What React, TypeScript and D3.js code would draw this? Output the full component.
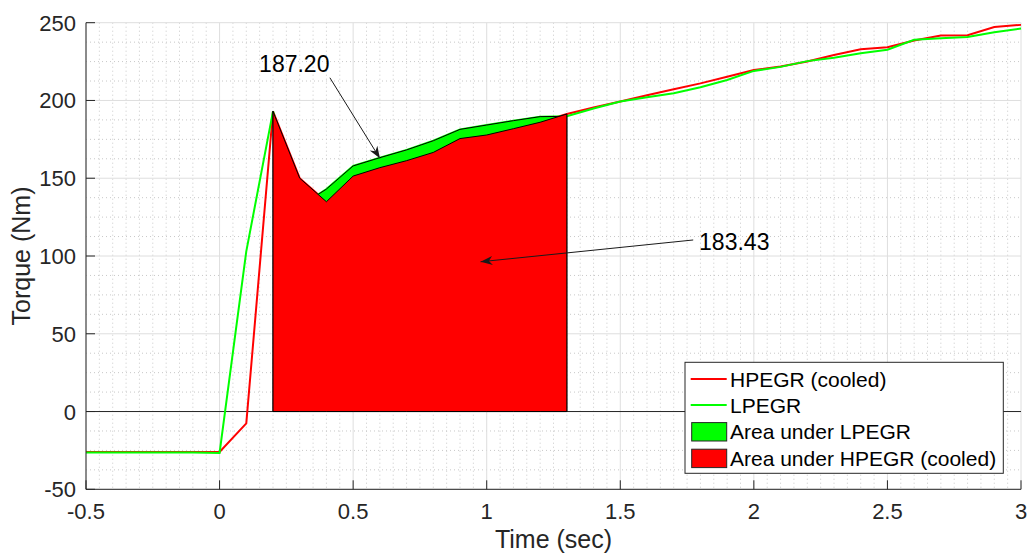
import React from "react";
import * as d3 from "d3";

// Sample times (s)
const times = [
  -0.5, -0.4, -0.3, -0.2, -0.1, 0, 0.1, 0.2, 0.3, 0.4, 0.5, 0.6, 0.7, 0.8, 0.9,
  1.0, 1.1, 1.2, 1.3, 1.4, 1.5, 1.6, 1.7, 1.8, 1.9, 2.0, 2.1, 2.2, 2.3, 2.4, 2.5,
  2.6, 2.7, 2.8, 2.9, 3.0,
];

// Torque (Nm), HPEGR (cooled)
const hpegr = [
  -26, -26, -26, -26, -26, -26, -7.6, 193, 150, 134.9, 151.4, 156.8, 161.3,
  166.6, 175.5, 177.8, 181.85, 186, 191.3, 195.5, 199.3, 203.3, 207.2, 211,
  215.3, 219.6, 221.8, 225, 229.2, 232.9, 234.2, 238.6, 241.7, 241.9, 247.2,
  248.6,
];

// Torque (Nm), LPEGR
const lpegr = [
  -26.3, -26.3, -26.3, -26.3, -26.3, -26.6, 103, 193, 132, 143, 157.9, 163.2,
  168.2, 174.1, 181.4, 184.2, 187.0, 189.6, 189.8, 194.8, 199.3, 202, 204.6,
  208.5, 213.2, 219, 221.6, 225.3, 227.5, 230.3, 232.6, 239, 240, 240.8, 243.8,
  246.3,
];

// Integration window for the shaded areas
const areaStart = 0.2;
const areaEnd = 1.3;

const xTicks = [-0.5, 0, 0.5, 1, 1.5, 2, 2.5, 3];
const yTicks = [-50, 0, 50, 100, 150, 200, 250];

const seriesNames = ["HPEGR (cooled)", "LPEGR"];
const areaNames = ["Area under LPEGR", "Area under HPEGR (cooled)"];
const areaLabels = ["187.20", "183.43"];

const RED = "#ff0000";
const GREEN = "#00ff00";
const AXIS = "#262626";
const FONT = "'Liberation Sans', Arial, Helvetica, sans-serif";

const W = 1030;
const H = 554;
const left = 86;
const right = 1021;
const top = 22.7;
const bottom = 489.3;

export default function App() {
  const x = d3.scaleLinear().domain([-0.5, 3]).range([left, right]);
  const y = d3.scaleLinear().domain([-50, 250]).range([bottom, top]);

  const red = times.map((t, i) => ({ t, v: hpegr[i] }));
  const green = times.map((t, i) => ({ t, v: lpegr[i] }));

  const line = d3
    .line<{ t: number; v: number }>()
    .x((d) => x(d.t))
    .y((d) => y(d.v));
  const area = d3
    .area<{ t: number; v: number }>()
    .x((d) => x(d.t))
    .y0(y(0))
    .y1((d) => y(d.v));

  const inWindow = (d: { t: number }) =>
    d.t >= areaStart - 1e-9 && d.t <= areaEnd + 1e-9;

  // Minor grid
  const xMinor = d3.range(-0.5, 3.0001, 0.05).filter(
    (v) => Math.abs(v / 0.5 - Math.round(v / 0.5)) > 1e-6
  );
  const yMinor = d3.range(-50, 250.001, 12.5).filter((v) => v % 50 !== 0);

  const arrowHead = (
    x1: number,
    y1: number,
    x2: number,
    y2: number,
    len = 12,
    half = 4.5
  ) => {
    const dx = x2 - x1;
    const dy = y2 - y1;
    const L = Math.hypot(dx, dy);
    const ux = dx / L;
    const uy = dy / L;
    const px = -uy;
    const py = ux;
    const bx = x2 - ux * len;
    const by = y2 - uy * len;
    const nx = x2 - ux * len * 0.7;
    const ny = y2 - uy * len * 0.7;
    return `M${x2},${y2}L${bx + px * half},${by + py * half}L${nx},${ny}L${
      bx - px * half
    },${by - py * half}Z`;
  };

  // Annotation arrows in data units: [tailT, tailV, tipT, tipV]
  const arrows = [
    [0.413, 214.6, 0.6, 162.8],
    [1.773, 110.3, 0.977, 96.3],
  ];

  const legendX = 685;
  const legendY = 362.3;
  const legendW = 318.3;
  const legendH = 111;
  const rowY = [379, 405, 431.8, 458.4];

  return (
    <svg
      width={W}
      height={H}
      style={{ position: "absolute", left: 0, top: 0, background: "#fff" }}
      fontFamily={FONT}
    >
      <rect x={0} y={0} width={W} height={H} fill="#fff" />

      {/* minor grid */}
      <g stroke="#c8c8c8" strokeWidth={1} strokeDasharray="1,3">
        {xMinor.map((v, i) => (
          <line key={"xm" + i} x1={x(v)} x2={x(v)} y1={top} y2={bottom} />
        ))}
        {yMinor.map((v, i) => (
          <line key={"ym" + i} x1={left} x2={right} y1={y(v)} y2={y(v)} />
        ))}
      </g>
      {/* major grid */}
      <g stroke="#dedede" strokeWidth={1}>
        {xTicks.map((v) => (
          <line key={"xg" + v} x1={x(v)} x2={x(v)} y1={top} y2={bottom} />
        ))}
        {yTicks.map((v) => (
          <line key={"yg" + v} x1={left} x2={right} y1={y(v)} y2={y(v)} />
        ))}
      </g>

      {/* zero reference */}
      <line x1={left} x2={right} y1={y(0)} y2={y(0)} stroke={AXIS} strokeWidth={1} />

      {/* torque traces */}
      <path d={line(red) || ""} fill="none" stroke={RED} strokeWidth={2} />
      <path d={line(green) || ""} fill="none" stroke={GREEN} strokeWidth={2} />

      {/* shaded integrals */}
      <path
        d={area(green.filter(inWindow)) || ""}
        fill={GREEN}
        stroke="#000"
        strokeWidth={1}
      />
      <path
        d={area(red.filter(inWindow)) || ""}
        fill={RED}
        stroke="#000"
        strokeWidth={1}
      />

      {/* axes */}
      <line x1={left} x2={left} y1={top} y2={bottom} stroke={AXIS} strokeWidth={1} />
      <line x1={left} x2={right} y1={bottom} y2={bottom} stroke={AXIS} strokeWidth={1} />
      {xTicks.map((v) => (
        <g key={"xt" + v}>
          <line x1={x(v)} x2={x(v)} y1={bottom} y2={bottom - 9} stroke={AXIS} />
          <text
            x={x(v)}
            y={519}
            textAnchor="middle"
            fontSize={22}
            fill={AXIS}
          >
            {String(v)}
          </text>
        </g>
      ))}
      {yTicks.map((v) => (
        <g key={"yt" + v}>
          <line x1={left} x2={left + 9} y1={y(v)} y2={y(v)} stroke={AXIS} />
          <text
            x={76}
            y={y(v) + 8}
            textAnchor="end"
            fontSize={22}
            fill={AXIS}
          >
            {String(v)}
          </text>
        </g>
      ))}
      <text
        x={(left + right) / 2}
        y={548}
        textAnchor="middle"
        fontSize={25}
        fill={AXIS}
      >
        Time (sec)
      </text>
      <text
        transform={`translate(30,${(top + bottom) / 2}) rotate(-90)`}
        textAnchor="middle"
        fontSize={25}
        fill={AXIS}
      >
        Torque (Nm)
      </text>

      {/* area annotations */}
      {arrows.map(([t1, v1, t2, v2], i) => {
        const x1 = x(t1);
        const y1 = y(v1);
        const x2 = x(t2);
        const y2 = y(v2);
        return (
          <g key={"ar" + i}>
            <line x1={x1} y1={y1} x2={x2} y2={y2} stroke="#1a1a1a" strokeWidth={1} />
            <path d={arrowHead(x1, y1, x2, y2)} fill="#1a1a1a" />
          </g>
        );
      })}
      <text x={x(0.148)} y={y(218.5)} fontSize={23} fill="#000">
        {areaLabels[0]}
      </text>
      <text x={x(1.795)} y={y(103.9)} fontSize={23} fill="#000">
        {areaLabels[1]}
      </text>

      {/* legend */}
      <rect
        x={legendX}
        y={legendY}
        width={legendW}
        height={legendH}
        fill="#fff"
        stroke={AXIS}
        strokeWidth={1}
      />
      {seriesNames.map((name, i) => (
        <g key={"ls" + i}>
          <line
            x1={690.7}
            x2={726.7}
            y1={rowY[i]}
            y2={rowY[i]}
            stroke={i === 0 ? RED : GREEN}
            strokeWidth={2}
          />
          <text x={730} y={rowY[i] + 7.5} fontSize={21} fill="#000">
            {name}
          </text>
        </g>
      ))}
      {areaNames.map((name, i) => (
        <g key={"la" + i}>
          <rect
            x={691.7}
            y={rowY[i + 2] - 9.2}
            width={35}
            height={18.4}
            fill={i === 0 ? GREEN : RED}
            stroke={AXIS}
            strokeWidth={1}
          />
          <text x={730} y={rowY[i + 2] + 7.5} fontSize={21} fill="#000">
            {name}
          </text>
        </g>
      ))}
    </svg>
  );
}
